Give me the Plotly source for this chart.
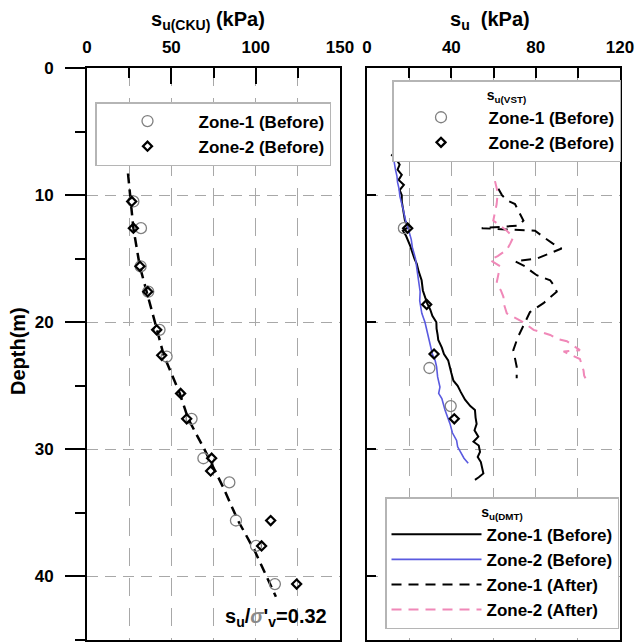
import plotly.graph_objects as go

# ---------------- data ----------------
# Left panel: s_u(CKU) lab tests
cku_z1_depth = [10.5, 12.6, 15.6, 17.6, 20.6, 22.7, 27.6, 30.7, 32.6, 35.6, 37.6, 40.6]
cku_z1_su = [27.5, 32.0, 31.8, 36.3, 43.0, 47.2, 62.0, 69.0, 84.4, 88.3, 100.2, 111.4]
cku_z2_depth = [10.5, 12.6, 15.6, 17.6, 20.6, 22.6, 25.6, 27.6, 30.7, 31.7, 35.6, 37.6, 40.6]
cku_z2_su = [26.5, 27.5, 31.4, 36.0, 41.3, 44.3, 55.5, 59.1, 73.9, 73.3, 108.9, 103.5, 124.3]
ratio_depth = [8.3, 10.5, 12.6, 15.6, 17.6, 20.6, 22.6, 25.6, 27.6, 30.1, 33.0, 35.6, 38.0, 41.6]
ratio_su = [24.3, 26.0, 27.5, 31.3, 35.5, 41.5, 45.5, 55.0, 60.0, 70.0, 80.8, 89.5, 99.5, 112.0]

# Right panel: s_u(VST)
vst_z1_depth = [12.6, 23.6, 26.6]
vst_z1_su = [17.5, 29.6, 39.7]
vst_z2_depth = [12.6, 18.6, 22.5, 27.6]
vst_z2_su = [19.3, 28.3, 31.8, 41.4]

# Right panel: s_u(DMT)
dmt_z1b_depth = [6.8, 7.2, 7.6, 8.0, 8.4, 8.8, 9.2, 9.6, 10.0, 10.5, 11.0, 11.5, 12.0, 12.5, 12.8,
                 13.2, 14.0, 15.0, 15.4, 16.0, 16.7, 17.5, 18.0, 18.5, 19.0, 19.5, 20.0, 20.5, 21.0,
                 21.4, 22.0, 22.5, 23.0, 23.5, 24.0, 24.6, 25.0, 25.5, 26.1, 26.6, 26.9, 27.5, 28.0,
                 28.5, 29.0, 29.4, 29.7, 30.2, 30.6, 31.0, 31.4, 31.9, 32.2, 32.4]
dmt_z1b_su = [11.5, 14.0, 15.5, 14.5, 16.5, 15.0, 17.5, 15.5, 16.5, 16.5, 17.0, 17.5, 18.0, 20.0, 17.0,
              18.5, 20.5, 22.5, 23.6, 24.5, 25.9, 26.5, 27.5, 28.5, 30.0, 31.0, 32.9, 33.0, 33.5,
              33.8, 35.5, 36.5, 38.5, 39.4, 40.0, 41.0, 43.0, 44.5, 46.5, 49.0, 51.2, 51.5, 52.0,
              51.0, 52.8, 50.5, 53.0, 53.6, 52.5, 54.0, 54.4, 55.2, 53.0, 51.2]
dmt_z2b_depth = [6.8, 7.5, 8.0, 8.5, 9.0, 9.5, 10.1, 11.0, 12.0, 12.6, 13.5, 14.1, 15.0, 16.2, 17.0,
                 17.6, 18.3, 19.3, 20.0, 20.6, 21.2, 21.7, 22.5, 23.0, 23.5, 24.3, 25.1, 25.6, 26.0,
                 26.9, 27.5, 28.0, 28.7, 29.3, 29.8, 30.3, 30.7, 31.1]
dmt_z2b_su = [12.3, 12.8, 13.5, 14.2, 14.5, 15.2, 15.6, 17.0, 18.3, 19.5, 21.0, 21.5, 23.0, 24.0, 24.5,
              25.2, 25.0, 26.0, 27.5, 28.3, 29.0, 29.9, 31.0, 32.3, 33.0, 33.5, 34.6, 34.0, 35.5,
              37.0, 38.3, 39.4, 40.5, 42.5, 43.0, 44.9, 46.0, 48.0]
dmt_z1a_depth = [9.5, 10.0, 10.4, 10.7, 11.3, 12.0, 12.4, 12.5, 12.6, 12.7, 12.8, 13.3, 13.8, 14.2,
                 14.6, 15.0, 15.2, 15.6, 16.0, 16.3, 16.7, 17.2, 17.6, 18.0, 18.5, 19.2, 20.0, 20.6,
                 21.2, 22.2, 22.8, 23.5, 24.4]
dmt_z1a_su = [62.3, 64.0, 66.3, 70.2, 72.0, 74.2, 72.0, 63.0, 54.4, 66.0, 79.7, 83.7, 88.0, 92.3,
              86.0, 80.5, 70.2, 75.0, 78.0, 80.5, 86.9, 89.0, 90.0, 87.0, 83.7, 77.3, 74.9, 73.0,
              71.5, 69.4, 70.0, 71.0, 71.0]
dmt_z2a_depth = [8.9, 9.8, 10.7, 11.4, 12.0, 12.8, 13.3, 13.8, 14.3, 14.8, 15.1, 15.6, 16.2, 16.9,
                 17.5, 18.0, 18.6, 19.3, 20.0, 20.6, 21.0, 21.3, 21.5, 22.0, 22.2, 22.3, 22.6, 22.9,
                 23.4, 23.8, 24.2, 24.6]
dmt_z2a_su = [60.7, 62.0, 61.5, 60.5, 59.9, 66.3, 69.4, 68.0, 66.3, 62.0, 58.3, 63.1, 62.5, 61.5,
              63.5, 64.7, 65.0, 66.3, 74.2, 79.0, 86.9, 90.0, 94.8, 99.0, 101.0, 93.2, 97.0, 101.0,
              102.0, 102.7, 103.0, 104.2]

left_x_ticks = [0, 50, 100, 150]
right_x_ticks = [0, 40, 80, 120]
depth_ticks = [0, 10, 20, 30, 40]

# ---------------- figure ----------------
W, H = 636, 643
FONT = "Liberation Sans, Arial, sans-serif"
BLUE = "#5a5ae0"
PINK = "#f088b8"
GRID = "#a8a8a8"

fig = go.Figure()

# left panel
fig.add_trace(go.Scatter(x=ratio_su, y=ratio_depth, mode="lines", showlegend=False,
                         line=dict(color="black", width=2.5, dash="10px,6px"),
                         xaxis="x", yaxis="y"))
fig.add_trace(go.Scatter(x=cku_z1_su, y=cku_z1_depth, mode="markers", name="Zone-1 (Before)",
                         marker=dict(symbol="circle-open", size=11, color="#808080",
                                     line=dict(width=1.3)),
                         xaxis="x", yaxis="y", legend="legend"))
fig.add_trace(go.Scatter(x=cku_z2_su, y=cku_z2_depth, mode="markers", name="Zone-2 (Before)",
                         marker=dict(symbol="diamond-open", size=7, color="black",
                                     line=dict(width=2.2)),
                         xaxis="x", yaxis="y", legend="legend"))

# right panel DMT lines
fig.add_trace(go.Scatter(x=dmt_z1b_su, y=dmt_z1b_depth, mode="lines", name="Zone-1 (Before)",
                         line=dict(color="black", width=2),
                         xaxis="x2", yaxis="y2", legend="legend3"))
fig.add_trace(go.Scatter(x=dmt_z2b_su, y=dmt_z2b_depth, mode="lines", name="Zone-2 (Before)",
                         line=dict(color=BLUE, width=1.6),
                         xaxis="x2", yaxis="y2", legend="legend3"))
fig.add_trace(go.Scatter(x=dmt_z1a_su, y=dmt_z1a_depth, mode="lines", name="Zone-1 (After)",
                         line=dict(color="black", width=2, dash="10px,7px"),
                         xaxis="x2", yaxis="y2", legend="legend3"))
fig.add_trace(go.Scatter(x=dmt_z2a_su, y=dmt_z2a_depth, mode="lines", name="Zone-2 (After)",
                         line=dict(color=PINK, width=2, dash="10px,7px"),
                         xaxis="x2", yaxis="y2", legend="legend3"))

# right panel VST markers
fig.add_trace(go.Scatter(x=vst_z1_su, y=vst_z1_depth, mode="markers", name="Zone-1 (Before)",
                         marker=dict(symbol="circle-open", size=11, color="#808080",
                                     line=dict(width=1.3)),
                         xaxis="x2", yaxis="y2", legend="legend2"))
fig.add_trace(go.Scatter(x=vst_z2_su, y=vst_z2_depth, mode="markers", name="Zone-2 (Before)",
                         marker=dict(symbol="diamond-open", size=7, color="black",
                                     line=dict(width=2.2)),
                         xaxis="x2", yaxis="y2", legend="legend2"))

def px(x):
    return x / W

def py(y):
    return 1 - y / H

ydom = [py(640), py(68)]
tickfont = dict(family=FONT, size=17, color="black", weight="bold")

common_x = dict(side="top", showline=True, linecolor="black", linewidth=2, mirror=True,
                ticks="inside", tickcolor="black", tickwidth=1.5, ticklen=16,
                tickfont=tickfont, showgrid=True, gridcolor=GRID, gridwidth=1.3,
                griddash="18px,12px", zeroline=False, ticklabelstandoff=6, automargin=False)

fig.update_layout(
    width=W, height=H, margin=dict(l=0, r=0, t=0, b=0, autoexpand=False),
    paper_bgcolor="white", plot_bgcolor="white",
    font=dict(family=FONT, color="black"),
    xaxis=dict(domain=[px(87), px(340)], range=[0, 150], anchor="y",
               tickvals=left_x_ticks,
               minor=dict(dtick=25, tick0=0, ticks="inside", ticklen=10, tickcolor="black",
                          tickwidth=1.5, showgrid=True, gridcolor=GRID, gridwidth=1.3,
                          griddash="18px,12px"),
               **common_x),
    xaxis2=dict(domain=[px(367), px(620)], range=[0, 120], anchor="y2",
                tickvals=right_x_ticks,
                minor=dict(dtick=20, tick0=0, ticks="inside", ticklen=10, tickcolor="black",
                           tickwidth=1.5, showgrid=True, gridcolor=GRID, gridwidth=1.3,
                           griddash="18px,12px"),
                **{**common_x, "ticklen": 10}),
    yaxis=dict(domain=ydom, range=[45, 0], anchor="x", tickvals=depth_ticks,
               showline=True, linecolor="black", linewidth=2, mirror=True,
               ticks="outside", ticklen=20, tickwidth=1.5, tickcolor="black",
               tickfont=tickfont, ticklabelstandoff=8, automargin=False,
               minor=dict(dtick=5, tick0=0, ticks="outside", ticklen=10, tickwidth=1.5,
                          tickcolor="black", showgrid=False),
               showgrid=True, gridcolor=GRID, gridwidth=1.3, griddash="11px,7px",
               zeroline=False),
    yaxis2=dict(domain=ydom, range=[45, 0], anchor="x2", tickvals=depth_ticks,
                showticklabels=False, automargin=False,
                showline=True, linecolor="black", linewidth=2, mirror=True,
                ticks="inside", ticklen=9, tickwidth=1.5, tickcolor="black",
                showgrid=True, gridcolor=GRID, gridwidth=1.3, griddash="11px,7px",
                zeroline=False),
    legend=dict(x=px(95), y=py(102), xanchor="left", yanchor="top",
                bgcolor="white", bordercolor="#b5b5b5", borderwidth=1.5,
                font=dict(family=FONT, size=17, weight="bold", color="black"),
                itemwidth=92, tracegroupgap=0),
    legend2=dict(x=px(392), y=py(80), xanchor="left", yanchor="top",
                 bgcolor="white", bordercolor="#b5b5b5", borderwidth=1.5,
                 font=dict(family=FONT, size=17, weight="bold", color="black"),
                 title=dict(text="s<sub>u(VST)</sub>", side="top center",
                            font=dict(family=FONT, size=14, weight="bold")),
                 itemwidth=85),
    legend3=dict(x=px(385), y=py(497), xanchor="left", yanchor="top",
                 bgcolor="white", bordercolor="#b5b5b5", borderwidth=1.5,
                 font=dict(family=FONT, size=17, weight="bold", color="black"),
                 title=dict(text="s<sub>u(DMT)</sub>", side="top center",
                            font=dict(family=FONT, size=14, weight="bold")),
                 itemwidth=90),
)

ann_font = dict(family=FONT, size=20, color="black", weight="bold")
fig.add_annotation(text="s<sub>u(CKU)</sub> (kPa)", x=px(208), y=py(21), xref="paper", yref="paper",
                   showarrow=False, font=ann_font, xanchor="center", yanchor="middle")
fig.add_annotation(text="s<sub>u</sub>  (kPa)", x=px(490), y=py(21), xref="paper", yref="paper",
                   showarrow=False, font=ann_font, xanchor="center", yanchor="middle")
fig.add_annotation(text="Depth(m)", x=px(18), y=py(351), xref="paper", yref="paper",
                   showarrow=False, font=ann_font, textangle=-90,
                   xanchor="center", yanchor="middle")
fig.add_annotation(text="s<sub>u</sub>/<span style='color:#8a8a8a'><i>σ</i></span>'<sub>v</sub>=0.32",
                   x=px(329), y=py(617), xref="paper", yref="paper",
                   showarrow=False, font=ann_font, xanchor="right", yanchor="middle")

# remove the default 8px page margin so the figure sits at the window's top-left corner
fig.write_html("out.html", config={"displayModeBar": False},
               post_script="document.body.style.margin='0';document.body.style.overflow='hidden';")
